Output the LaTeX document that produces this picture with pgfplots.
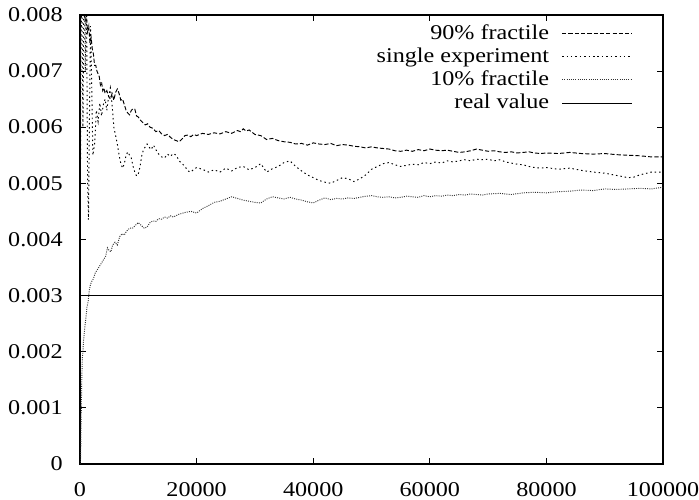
\documentclass[border=0pt]{standalone}
\usepackage{pgfplots}
\pgfplotsset{compat=1.18}
\usepackage{fontspec}
\setmainfont{Liberation Serif}[FakeStretch=1.15]

% fractiles of the estimate vs. number of samples
\pgfplotstableread{
x y
100 0.0102
300 0.0092
500 0.0084
700 0.0081
900 0.0079
1100 0.0080
1300 0.0077
1500 0.0078
1700 0.0075
1900 0.0076
2100 0.0074
2300 0.0073
2500 0.0071
2700 0.0071
2900 0.0070
3100 0.00695
3300 0.0069
3500 0.00675
3700 0.0068
3900 0.00665
4100 0.0067
4300 0.0066
4600 0.00665
4900 0.00655
5200 0.0065
5500 0.0066
5800 0.00648
6100 0.00662
6400 0.00668
6700 0.0066
7000 0.00648
7300 0.0065
7600 0.0064
7900 0.0063
8200 0.00625
8500 0.00622
8800 0.0063
9100 0.00633
9400 0.00632
9700 0.0062
10000 0.00618
10400 0.00612
10800 0.00608
11200 0.00604
11600 0.00606
12000 0.0060
12500 0.00598
13000 0.00592
13500 0.00594
14000 0.00588
14500 0.00585
15000 0.00587
15500 0.00582
16000 0.00578
16500 0.00576
17000 0.00574
17500 0.00579
18000 0.00585
18500 0.00586
19000 0.00583
19500 0.00587
20000 0.00585
21000 0.00589
22000 0.00587
23000 0.0059
24000 0.00588
25000 0.00592
26000 0.00589
27000 0.00594
27500 0.00592
28000 0.00597
28500 0.00593
29000 0.00595
30000 0.00587
31000 0.00585
32000 0.00578
33000 0.00580
34000 0.00576
35000 0.00574
36000 0.00573
37000 0.00570
38000 0.00571
39000 0.00568
40000 0.00572
41000 0.00570
42000 0.00569
43000 0.00571
44000 0.00567
45000 0.00569
46000 0.00568
47000 0.00566
48000 0.00565
49000 0.00563
50000 0.00565
51000 0.00563
52000 0.00562
53000 0.00561
54000 0.00558
55000 0.00557
56000 0.00559
57000 0.00557
58000 0.00560
59000 0.00558
60000 0.00561
61000 0.00559
62000 0.00558
63000 0.00559
64000 0.00557
65000 0.00555
66000 0.00556
67000 0.00558
68000 0.00561
69000 0.00559
70000 0.00557
71000 0.00558
72000 0.00556
73000 0.00555
74000 0.00556
75000 0.00554
76000 0.00555
77000 0.00556
78000 0.00554
79000 0.00553
80000 0.00554
82000 0.00553
84000 0.00555
86000 0.00553
88000 0.00552
90000 0.00553
92000 0.00551
94000 0.00550
96000 0.00549
98000 0.00547
100000 0.00547
}\upperdata

\pgfplotstableread{
x y
0 0.0030
150 0.0072
300 0.0085
500 0.0060
700 0.0090
900 0.0070
1100 0.0085
1300 0.0050
1450 0.00435
1600 0.0060
1800 0.0078
2000 0.0068
2200 0.0055
2500 0.0057
2800 0.0063
3100 0.0061
3400 0.00643
3700 0.0062
4000 0.0064
4300 0.0065
4600 0.0063
4900 0.00655
5200 0.0067
5500 0.0064
5800 0.0060
6100 0.00585
6400 0.0057
6700 0.0055
7000 0.00535
7300 0.00527
7600 0.00535
7900 0.0055
8200 0.00556
8500 0.0055
8800 0.00545
9100 0.0053
9400 0.0052
9700 0.00513
10000 0.00517
10300 0.0053
10600 0.0055
10900 0.0056
11200 0.00565
11500 0.0057
11800 0.00565
12200 0.0056
12600 0.00568
13000 0.0056
13500 0.00552
14000 0.00547
14500 0.00545
15000 0.00552
15500 0.00548
16000 0.00553
16500 0.0055
17000 0.0054
17500 0.00535
18000 0.0053
18500 0.00522
19000 0.0052
19500 0.00525
20000 0.00528
21000 0.00525
22000 0.0052
23000 0.00524
24000 0.0052
25000 0.00527
26000 0.00522
27000 0.00528
28000 0.0053
29000 0.00524
30000 0.00528
31000 0.00535
32000 0.0052
33000 0.00526
34000 0.0053
35000 0.00537
36000 0.0054
37000 0.0053
38000 0.00522
39000 0.00515
40000 0.0051
41000 0.00505
42000 0.00502
43000 0.0050
44000 0.00505
45000 0.0051
46000 0.00508
47000 0.00503
48000 0.00508
49000 0.00515
50000 0.00525
51000 0.0053
52000 0.00535
53000 0.00537
54000 0.00533
55000 0.0053
56000 0.00532
57000 0.00534
58000 0.00533
59000 0.00537
60000 0.00535
61000 0.00538
62000 0.00536
63000 0.0054
64000 0.00538
65000 0.0054
66000 0.00542
67000 0.0054
68000 0.00543
69000 0.00542
70000 0.00543
71000 0.0054
72000 0.00542
73000 0.00538
74000 0.00536
75000 0.00534
76000 0.00533
77000 0.0053
78000 0.00528
79000 0.00527
80000 0.00528
82000 0.00525
84000 0.00527
86000 0.00523
88000 0.0052
90000 0.00518
92000 0.00514
94000 0.0051
95000 0.00511
96000 0.00515
98000 0.0052
100000 0.0052
}\singledata

\pgfplotstableread{
x y
0 0.0
100 0.0001
200 0.0008
300 0.0015
400 0.0019
500 0.0020
600 0.0022
800 0.0024
1000 0.0026
1200 0.0028
1400 0.0029
1600 0.0031
1800 0.0032
2000 0.00325
2300 0.0033
2600 0.0034
2900 0.00345
3200 0.0035
3500 0.00355
3800 0.0036
4100 0.00365
4400 0.0037
4700 0.00385
5000 0.0038
5300 0.00378
5600 0.0039
6000 0.00395
6400 0.0039
6800 0.00405
7200 0.0041
7600 0.00408
8000 0.00415
8500 0.0042
9000 0.0042
9500 0.00425
10000 0.0043
10500 0.00425
11000 0.0042
11500 0.00422
12000 0.0043
12500 0.00433
13000 0.00432
13500 0.00437
14000 0.00436
14500 0.0044
15000 0.00438
15500 0.00442
16000 0.0044
17000 0.00445
18000 0.00448
19000 0.0045
20000 0.00447
21000 0.00455
22000 0.0046
23000 0.00466
24000 0.00468
25000 0.00472
26000 0.00476
27000 0.00473
28000 0.0047
29000 0.00468
30000 0.00466
31000 0.00465
32000 0.00472
33000 0.00476
34000 0.00474
35000 0.00472
36000 0.00475
37000 0.00472
38000 0.0047
39000 0.00467
40000 0.00465
41000 0.0047
42000 0.00474
43000 0.00471
44000 0.00473
45000 0.00472
46000 0.00474
47000 0.00473
48000 0.00475
49000 0.00477
50000 0.00478
51000 0.00476
52000 0.00475
53000 0.00476
54000 0.00474
55000 0.00475
56000 0.00477
57000 0.00476
58000 0.00475
59000 0.00478
60000 0.00476
61000 0.00478
62000 0.00477
63000 0.00479
64000 0.00478
65000 0.0048
66000 0.00479
67000 0.00481
68000 0.0048
69000 0.00479
70000 0.00481
72000 0.00482
74000 0.0048
76000 0.00483
78000 0.00484
80000 0.00483
82000 0.00485
84000 0.00486
86000 0.00488
88000 0.00487
90000 0.0049
92000 0.00489
94000 0.0049
96000 0.00491
98000 0.0049
100000 0.00493
}\lowerdata

\begin{document}
\begin{tikzpicture}
\begin{axis}[
  name=ax,
  scale only axis,
  width=277.6pt, height=213.8pt,
  xmin=0, xmax=100000, ymin=0, ymax=0.008,
  scaled x ticks=false, scaled y ticks=false,
  xtick={0,20000,40000,60000,80000,100000},
  xticklabels={0,20000,40000,60000,80000,100000},
  ytick={0,0.001,0.002,0.003,0.004,0.005,0.006,0.007,0.008},
  yticklabels={0,0.001,0.002,0.003,0.004,0.005,0.006,0.007,0.008},
  tick align=inside,
  major tick length=2.9pt,
  every tick/.style={black, line width=0.5pt},
  axis line style={line width=0.6pt},
  yticklabel style={font=\fontsize{10}{12}\selectfont, anchor=east, inner sep=0pt, xshift=-8.1pt},
  xticklabel style={font=\fontsize{10}{12}\selectfont, anchor=north, inner sep=0pt, yshift=-8.6pt},
  legend plot pos=right,
  legend cell align=right,
  legend image code/.code={\draw[#1] (0pt,0pt) -- (33.3pt,0pt);},
  legend style={at={(0.9485,0.986)}, anchor=north east, draw=none, fill=none,
    inner sep=0pt, column sep=5pt, row sep=0pt,
    font=\fontsize{10}{12}\selectfont,
    nodes={inner xsep=1pt, inner ysep=0.3pt, text height=8pt, text depth=2.5pt}},
]
\addplot[black, line width=0.45pt, dash pattern=on 2pt off 1pt] table {\upperdata};
\addlegendentry{90\% fractile}
\addplot[black, line width=0.45pt, dash pattern=on 0.7pt off 1.4pt] table {\singledata};
\addlegendentry{single experiment}
\addplot[black!80, line width=0.45pt, dash pattern=on 0.45pt off 0.6pt] table {\lowerdata};
\addlegendentry{10\% fractile}
\addplot[black, line width=0.5pt] coordinates {(0,0.003) (100000,0.003)};
\addlegendentry{real value}
\end{axis}
\pgfresetboundingbox
\path ([xshift=-38.1pt,yshift=-17.1pt]ax.south west) rectangle ([xshift=17.1pt,yshift=7.1pt]ax.north east);
\end{tikzpicture}
\end{document}
